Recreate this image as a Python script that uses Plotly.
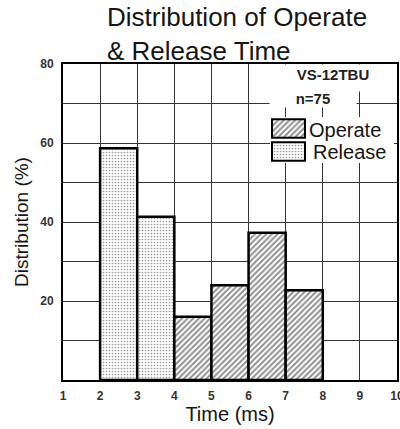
import plotly.graph_objects as go

# ---- data ----
release_start = [2, 3]            # bin start (ms), bins are 1 ms wide
release_pct = [58.7, 41.3]
operate_start = [4, 5, 6, 7]
operate_pct = [16.0, 24.0, 37.3, 22.7]
x_ticks = [1, 2, 3, 4, 5, 6, 7, 8, 9, 10]
y_ticks = [20, 40, 60, 80]
legend_names = ["Operate", "Release"]
device_label = "VS-12TBU"
n_label = "n=75"

TXT = "#151515"
SANS = "Liberation Sans, Arial, sans-serif"
NARROW = "Liberation Sans Narrow, Arial Narrow, Liberation Sans, sans-serif"

release_pattern = dict(shape=".", fgcolor="#333", bgcolor="white", size=3, solidity=0.25)
operate_pattern = dict(shape="/", fgcolor="#222", bgcolor="white", size=4, solidity=0.5)
outline = dict(color="black", width=2.5)

fig = go.Figure()
fig.add_trace(go.Bar(x=release_start, y=release_pct, offset=0, width=1,
                     marker=dict(color="white", pattern=release_pattern, line=outline),
                     name="Release", showlegend=False))
fig.add_trace(go.Bar(x=operate_start, y=operate_pct, offset=0, width=1,
                     marker=dict(color="white", pattern=operate_pattern, line=outline),
                     name="Operate", showlegend=False))

# legend boxes drawn as an inset
fig.add_trace(go.Bar(y=[legend_names[0]], x=[1], base=0, orientation="h", width=0.8,
                     marker=dict(color="white", pattern=operate_pattern, line=dict(color="black", width=2)),
                     xaxis="x2", yaxis="y2", showlegend=False))
fig.add_trace(go.Bar(y=[legend_names[1]], x=[1], base=0, orientation="h", width=0.8,
                     marker=dict(color="white", pattern=release_pattern, line=dict(color="black", width=2)),
                     xaxis="x2", yaxis="y2", showlegend=False))

grid = "#333"
fig.update_layout(
    width=400, height=429,
    margin=dict(l=63, r=3, t=64, b=49, autoexpand=False),
    paper_bgcolor="white", plot_bgcolor="white",
    barmode="overlay",
    title=dict(text="Distribution of Operate<br>& Release Time",
               x=107 / 400, xanchor="left", xref="container",
               y=1 - 26 / 429, yanchor="top", yref="container",
               font=dict(family=SANS, size=26, color=TXT)),
    xaxis=dict(range=[1, 10], tickvals=x_ticks, showgrid=True, gridcolor=grid, gridwidth=1.2,
               zeroline=False, showline=True, mirror=True, linecolor="black", linewidth=2,
               ticks="", ticklabelstandoff=4, ticklabeloverflow="allow", automargin=False,
               tickfont=dict(family=NARROW, size=12, color="#333", weight="bold"),
               title=dict(text="Time (ms)", standoff=3, font=dict(family=SANS, size=20, color=TXT))),
    yaxis=dict(range=[0, 80], tickvals=y_ticks, showgrid=True, gridcolor=grid, gridwidth=1.2,
               minor=dict(dtick=10, tick0=0, showgrid=True, gridcolor=grid, gridwidth=1.2),
               zeroline=False, showline=True, mirror=True, linecolor="black", linewidth=2,
               ticks="", ticklabelstandoff=5, automargin=False,
               tickfont=dict(family=NARROW, size=12, color="#333", weight="bold"),
               title=dict(text="Distribution (%)", standoff=7, font=dict(family=SANS, size=19, color=TXT))),
    xaxis2=dict(domain=[(270 - 63) / 334, (394 - 63) / 334], range=[-0.061, 3.70], anchor="y2",
                visible=False, showgrid=False, zeroline=False, fixedrange=True),
    yaxis2=dict(domain=[(380 - 163) / 316, (380 - 117) / 316], range=[-0.5, 1.5], anchor="x2",
                categoryorder="array", categoryarray=[legend_names[1], legend_names[0]],
                visible=False, showgrid=False, zeroline=False, fixedrange=True),
)

# white mask behind the legend inset (covers the main grid)
fig.add_shape(type="rect", xref="x2 domain", yref="y2 domain", x0=0, x1=1, y0=0, y1=1,
              fillcolor="white", line=dict(width=0), layer="below")

def px_x(p):
    return (p - 63) / 334

def px_y(p):
    return (380 - p) / 316

# device label & count with white backgrounds masking the grid
fig.add_annotation(text=device_label, xref="paper", yref="paper",
                   x=px_x(333), y=px_y(64), xanchor="center", yanchor="top",
                   width=122, height=24, valign="top", bgcolor="white", borderpad=1,
                   showarrow=False, font=dict(family=NARROW, size=15, color="#222", weight="bold"))
fig.add_annotation(text=n_label, xref="paper", yref="paper",
                   x=px_x(313), y=px_y(98), xanchor="center", yanchor="middle",
                   width=84, height=16, bgcolor="white", borderpad=1,
                   showarrow=False, font=dict(family=NARROW, size=15, color="#222", weight="bold"))
# legend labels
fig.add_annotation(text=legend_names[0], xref="paper", yref="paper",
                   x=px_x(307), y=px_y(130), xanchor="left", yanchor="middle",
                   showarrow=False, font=dict(family=SANS, size=20, color=TXT))
fig.add_annotation(text=legend_names[1], xref="paper", yref="paper",
                   x=px_x(311), y=px_y(152), xanchor="left", yanchor="middle",
                   showarrow=False, font=dict(family=SANS, size=20, color=TXT))

fig.write_html("out.html")
